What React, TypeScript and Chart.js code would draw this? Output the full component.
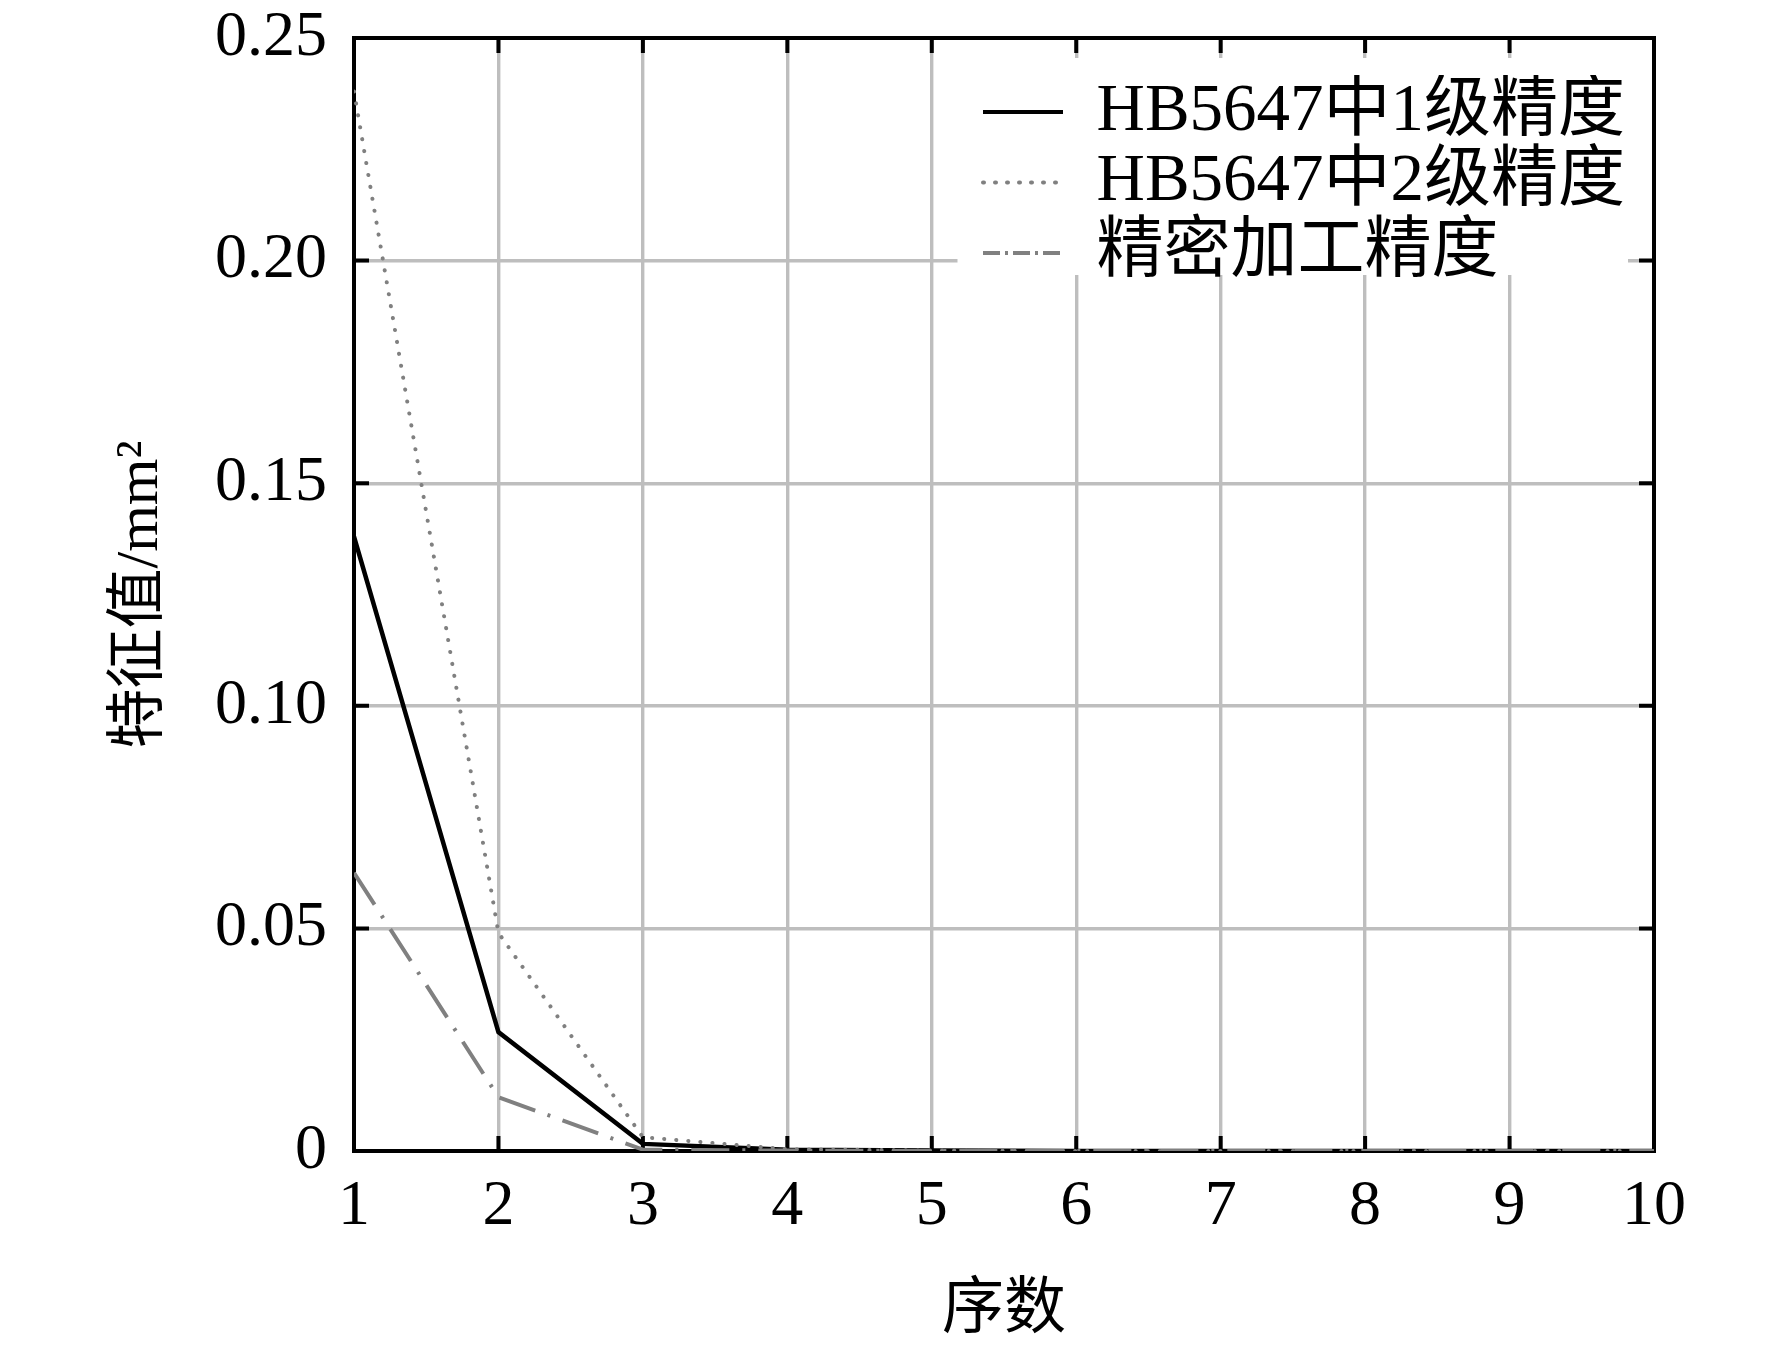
import React, { useEffect, useRef } from 'react';
import { Chart, registerables } from 'chart.js';

Chart.register(...registerables);

// ---- data ----
const categories = [1, 2, 3, 4, 5, 6, 7, 8, 9, 10];
const grade1Values = [0.138, 0.0267, 0.0016, 0.0003, 0.0001, 0, 0, 0, 0, 0];
const grade2Values = [0.238, 0.049, 0.0031, 0.0004, 0.0001, 0, 0, 0, 0, 0];
const precisionValues = [0.0625, 0.0121, 0.0003, 0.0001, 0, 0, 0, 0, 0, 0];
const seriesNames = ['HB5647中1级精度', 'HB5647中2级精度', '精密加工精度'];
const xTickLabels = ['1', '2', '3', '4', '5', '6', '7', '8', '9', '10'];
const yTickLabels = ['0', '0.05', '0.10', '0.15', '0.20', '0.25'];
const xTitle = '序数';
const yTitle = '特征值/mm²';

const FONT = '"Liberation Serif", "Noto Sans CJK SC", serif';

const toPoints = (vals: number[]) => categories.map((c, i) => ({ x: c, y: vals[i] }));

const framePlugin = {
  id: 'frameTicks',
  afterLayout(chart: any) {
    const lg = chart.legend;
    const a = chart.chartArea;
    if (!lg || !a) return;
    lg.left = a.left + 625.5;
    lg.top = a.top + 37;
    if (!lg.__wrapped) {
      const orig = lg.draw.bind(lg);
      lg.draw = (...args: any[]) => {
        const ctx = chart.ctx;
        const ca = chart.chartArea;
        ctx.save();
        ctx.fillStyle = '#ffffff';
        const x0 = lg.left - 22;
        const y0 = lg.top - 17;
        ctx.fillRect(x0, y0, ca.right - 26 - x0, 217);
        ctx.restore();
        orig(...args);
      };
      lg.__wrapped = true;
    }
  },
  beforeDatasetsDraw(chart: any) {
    const { ctx, chartArea: a, scales } = chart;
    ctx.save();
    ctx.strokeStyle = '#000';
    ctx.lineWidth = 4;
    ctx.strokeRect(a.left, a.top, a.right - a.left, a.bottom - a.top);
    ctx.beginPath();
    const len = 15;
    scales.x.ticks.forEach((t: any) => {
      const px = scales.x.getPixelForValue(t.value);
      ctx.moveTo(px, a.bottom);
      ctx.lineTo(px, a.bottom - len);
      ctx.moveTo(px, a.top);
      ctx.lineTo(px, a.top + len);
    });
    scales.y.ticks.forEach((t: any) => {
      const py = scales.y.getPixelForValue(t.value);
      ctx.moveTo(a.left, py);
      ctx.lineTo(a.left + len, py);
      ctx.moveTo(a.right, py);
      ctx.lineTo(a.right - len, py);
    });
    ctx.stroke();
    ctx.restore();
  },
};

export default function App() {
  const ref = useRef<HTMLCanvasElement | null>(null);

  useEffect(() => {
    if (!ref.current) return;
    const legendDashes: Record<number, number[]> = { 1: [1, 11], 2: [17, 5, 3, 5] };
    const chart = new Chart(ref.current, {
      type: 'line',
      data: {
        datasets: [
          {
            label: seriesNames[0],
            data: toPoints(grade1Values),
            borderColor: '#000000',
            backgroundColor: '#000000',
            borderWidth: 4.5,
            pointRadius: 0,
            tension: 0,
            order: 2,
          },
          {
            label: seriesNames[1],
            data: toPoints(grade2Values),
            borderColor: '#808080',
            backgroundColor: '#808080',
            borderWidth: 4,
            borderDash: [0.1, 12],
            borderCapStyle: 'round',
            pointRadius: 0,
            tension: 0,
            order: 1,
          },
          {
            label: seriesNames[2],
            data: toPoints(precisionValues),
            borderColor: '#808080',
            backgroundColor: '#808080',
            borderWidth: 4,
            borderDash: [38, 13, 3, 13],
            pointRadius: 0,
            tension: 0,
            order: 0,
          },
        ],
      },
      options: {
        responsive: false,
        maintainAspectRatio: false,
        devicePixelRatio: 1,
        animation: false,
        layout: { padding: { top: 38, right: 118, left: 0, bottom: 0 } },
        plugins: {
          tooltip: { enabled: false },
          legend: {
            position: 'chartArea' as any,
            align: 'start',
            labels: {
              usePointStyle: true,
              pointStyleWidth: 80,
              boxHeight: 10,
              padding: 3.5,
              color: '#000',
              font: { family: FONT, size: 67 },
              sort: (a: any, b: any) => a.datasetIndex - b.datasetIndex,
              generateLabels: (c: any) => {
                const items = Chart.defaults.plugins.legend.labels.generateLabels(c);
                return items.map((it: any) => ({
                  ...it,
                  pointStyle: 'line',
                  fillStyle: 'rgba(0,0,0,0)',
                  lineDash: legendDashes[it.datasetIndex] ?? [],
                  lineCap: it.datasetIndex === 1 ? 'round' : 'butt',
                  lineWidth: 4,
                }));
              },
            },
          },
        },
        scales: {
          x: {
            type: 'linear',
            min: 1,
            max: 10,
            ticks: {
              stepSize: 1,
              autoSkip: false,
              maxRotation: 0,
              padding: 18,
              color: '#000',
              font: { family: FONT, size: 64 },
              callback: (_v: any, i: number) => xTickLabels[i],
            },
            grid: { color: '#bebebe', lineWidth: 3.4, drawTicks: false },
            border: { display: false },
            title: {
              display: true,
              text: xTitle,
              color: '#000',
              font: { family: FONT, size: 62 },
              padding: { top: 0, bottom: 4 },
            },
            afterFit: (s: any) => {
              s.height = 202;
              s.paddingLeft = 0;
              s.paddingRight = 0;
            },
          },
          y: {
            type: 'linear',
            min: 0,
            max: 0.25,
            ticks: {
              stepSize: 0.05,
              autoSkip: false,
              padding: 27,
              color: '#000',
              font: { family: FONT, size: 64 },
              callback: (_v: any, i: number) => yTickLabels[i],
            },
            grid: { color: '#bebebe', lineWidth: 3.4, drawTicks: false },
            border: { display: false },
            title: {
              display: true,
              text: yTitle,
              color: '#000',
              font: { family: FONT, size: 60 },
              padding: { top: 105, bottom: 0 },
            },
            afterFit: (s: any) => {
              s.width = 354;
              s.paddingTop = 0;
              s.paddingBottom = 0;
            },
          },
        },
      },
      plugins: [framePlugin],
    });
    return () => chart.destroy();
  }, []);

  return (
    <div style={{ position: 'absolute', left: 0, top: 0, width: 1772, height: 1353, background: '#fff' }}>
      <canvas ref={ref} width={1772} height={1353} style={{ display: 'block' }} />
    </div>
  );
}
